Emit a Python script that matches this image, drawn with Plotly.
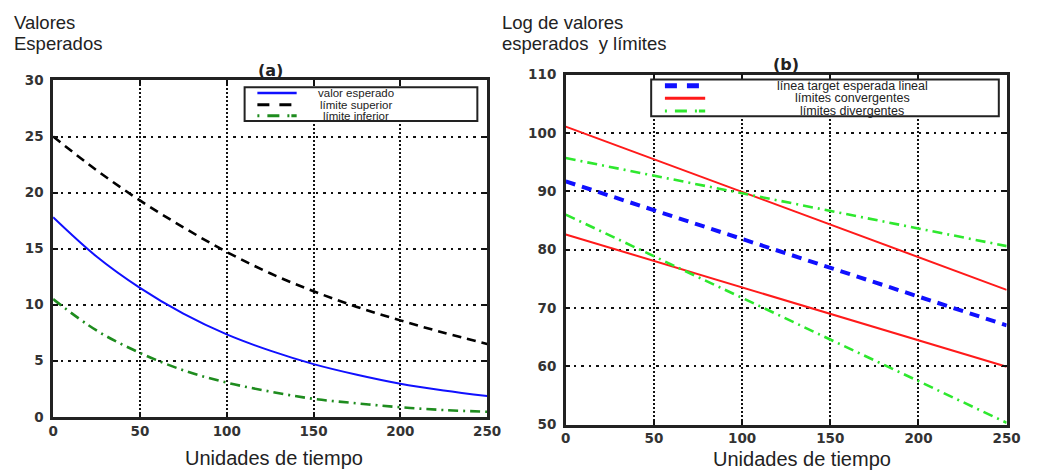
import plotly.graph_objects as go

W, H = 1057, 476

# ---------------- data ----------------
t_a = [0, 25, 50, 75, 100, 125, 150, 175, 200, 225, 250]
valor_esperado = [17.8, 14.3, 11.5, 9.2, 7.35, 5.9, 4.7, 3.75, 2.95, 2.35, 1.85]
limite_superior = [25.0, 22.0, 19.3, 16.9, 14.7, 12.8, 11.2, 9.8, 8.6, 7.5, 6.5]
limite_inferior = [10.5, 7.7, 5.7, 4.15, 3.05, 2.25, 1.6, 1.2, 0.85, 0.6, 0.45]

t_b = [0, 250]
target_lineal = [91.7, 67.0]
conv_sup = [101.1, 73.1]
conv_inf = [82.6, 59.9]
div_sup = [95.7, 80.6]
div_inf = [86.0, 50.3]

xticks = [0, 50, 100, 150, 200, 250]
yticks_a = [0, 5, 10, 15, 20, 25, 30]
yticks_b = [50, 60, 70, 80, 90, 100, 110]

labels_a = ["valor esperado", "límite superior", "límite inferior"]
labels_b = ["línea target esperada lineal", "límites convergentes", "límites divergentes"]

# ---------------- styles ----------------
BLUE = "#1010ff"
GREEN_D = "#1e8c1e"
GREEN_L = "#2ee82e"
RED = "#ff1a1a"
DASH_K = "9px,6px"
DASH_DD = "10px,5px,2px,5px"
DASH_B = "10px,7px"


def px(x):
    return x / W


def py(y):
    return 1 - y / H


fig = go.Figure()

fig.add_trace(go.Scatter(x=t_a, y=valor_esperado, mode="lines", line=dict(color=BLUE, width=2, shape="spline"),
                         showlegend=False, xaxis="x", yaxis="y"))
fig.add_trace(go.Scatter(x=t_a, y=limite_superior, mode="lines",
                         line=dict(color="black", width=2.6, dash=DASH_K, shape="spline"),
                         showlegend=False, xaxis="x", yaxis="y"))
fig.add_trace(go.Scatter(x=t_a, y=limite_inferior, mode="lines",
                         line=dict(color=GREEN_D, width=2.6, dash=DASH_DD, shape="spline"),
                         showlegend=False, xaxis="x", yaxis="y"))

fig.add_trace(go.Scatter(x=t_b, y=target_lineal, mode="lines", line=dict(color=BLUE, width=4, dash=DASH_B),
                         showlegend=False, xaxis="x2", yaxis="y2"))
for ys in (conv_sup, conv_inf):
    fig.add_trace(go.Scatter(x=t_b, y=ys, mode="lines", line=dict(color=RED, width=2),
                             showlegend=False, xaxis="x2", yaxis="y2"))
for ys in (div_sup, div_inf):
    fig.add_trace(go.Scatter(x=t_b, y=ys, mode="lines", line=dict(color=GREEN_L, width=2.6, dash=DASH_DD),
                             showlegend=False, xaxis="x2", yaxis="y2"))

tickfont = dict(family="DejaVu Sans", size=13.5, color="#333", weight="bold")
common_x = dict(range=[0, 250], tickvals=xticks, ticks="inside", ticklen=5, tickwidth=2, tickcolor="#111",
                showline=True, linewidth=2.5, linecolor="#222", mirror="ticks", showgrid=True,
                gridcolor="#111", gridwidth=1.5, griddash="2px,2px", zeroline=False, tickfont=tickfont,
                ticklabelstandoff=0)
common_y = dict(ticks="inside", ticklen=5, tickwidth=2, tickcolor="#111",
                showline=True, linewidth=2.5, linecolor="#222", mirror="ticks", showgrid=True,
                gridcolor="#111", gridwidth=1.5, griddash="3px,5px,2px,5px", zeroline=False, tickfont=tickfont,
                ticklabelstandoff=4)

fig.update_layout(
    width=W, height=H, margin=dict(l=0, r=0, t=0, b=0),
    paper_bgcolor="white", plot_bgcolor="white", showlegend=False,
    xaxis=dict(domain=[px(49), px(491)], anchor="y", **common_x),
    yaxis=dict(domain=[py(423), py(75)], anchor="x", range=[0, 30], tickvals=yticks_a, **common_y),
    xaxis2=dict(domain=[px(571), px(1020)], anchor="y2", **common_x),
    yaxis2=dict(domain=[py(431), py(69)], anchor="x2", range=[50, 110], tickvals=yticks_b, **common_y),
)

shapes = []
ann = []
TXT = "Liberation Sans"

# ---- legend (a)
shapes.append(dict(type="rect", xref="paper", yref="paper", x0=px(244), x1=px(481), y0=py(117), y1=py(82),
                   line=dict(color="#222", width=2), fillcolor="white", layer="above"))
rows_a = [88, 100, 111.5]
styles_a = [dict(color=BLUE, width=2.5), dict(color="black", width=3, dash="12px,10px"),
            dict(color=GREEN_D, width=3, dash="2px,8px,12px,8px,2px")]
for r, st, lab in zip(rows_a, styles_a, labels_a):
    shapes.append(dict(type="line", xref="paper", yref="paper", x0=px(257), x1=px(297), y0=py(r), y1=py(r),
                       line=st, layer="above"))
    ann.append(dict(x=px(357), y=py(r), xref="paper", yref="paper", text=lab, showarrow=False,
                    xanchor="center", yanchor="middle", font=dict(family=TXT, size=11.5, color="#222")))

# ---- legend (b)
shapes.append(dict(type="rect", xref="paper", yref="paper", x0=px(658), x1=px(1012), y0=py(112), y1=py(74),
                   line=dict(color="#222", width=2), fillcolor="white", layer="above"))
rows_b = [80.5, 93.5, 106.5]
styles_b = [dict(color=BLUE, width=5, dash="12px,10px"), dict(color=RED, width=3),
            dict(color=GREEN_L, width=3, dash="2px,8px,12px,8px,2px")]
for r, st, lab in zip(rows_b, styles_b, labels_b):
    shapes.append(dict(type="line", xref="paper", yref="paper", x0=px(672), x1=px(713), y0=py(r), y1=py(r),
                       line=st, layer="above"))
    ann.append(dict(x=px(863), y=py(r), xref="paper", yref="paper", text=lab, showarrow=False,
                    xanchor="center", yanchor="middle", borderpad=0,
                    font=dict(family=TXT, size=12.5, color="#222")))

# ---- panel titles
ann.append(dict(x=px(270), y=py(65), xref="paper", yref="paper", text="(a)", showarrow=False,
                xanchor="center", yanchor="middle", font=dict(family="DejaVu Sans", size=16, color="#222", weight="bold")))
ann.append(dict(x=px(795), y=py(58), xref="paper", yref="paper", text="(b)", showarrow=False,
                xanchor="center", yanchor="middle", font=dict(family="DejaVu Sans", size=16, color="#222", weight="bold")))

# ---- axis titles
title_font = dict(family=TXT, size=18.5, color="#222")
for txt, x, y in [("Valores", 8, 15), ("Esperados", 8, 37),
                  ("Log de valores", 505, 15), ("esperados  y límites", 505, 37)]:
    ann.append(dict(x=px(x), y=py(y), xref="paper", yref="paper", text=txt, showarrow=False,
                    xanchor="left", yanchor="middle", align="left", borderpad=0, font=title_font))
ann.append(dict(x=px(274), y=py(466), xref="paper", yref="paper", text="Unidades de tiempo", showarrow=False,
                xanchor="center", yanchor="middle", font=dict(family=TXT, size=20, color="#222")))
ann.append(dict(x=px(812), y=py(467), xref="paper", yref="paper", text="Unidades de tiempo", showarrow=False,
                xanchor="center", yanchor="middle", font=dict(family=TXT, size=20, color="#222")))

fig.update_layout(shapes=shapes, annotations=ann)
fig.write_html("out.html")
